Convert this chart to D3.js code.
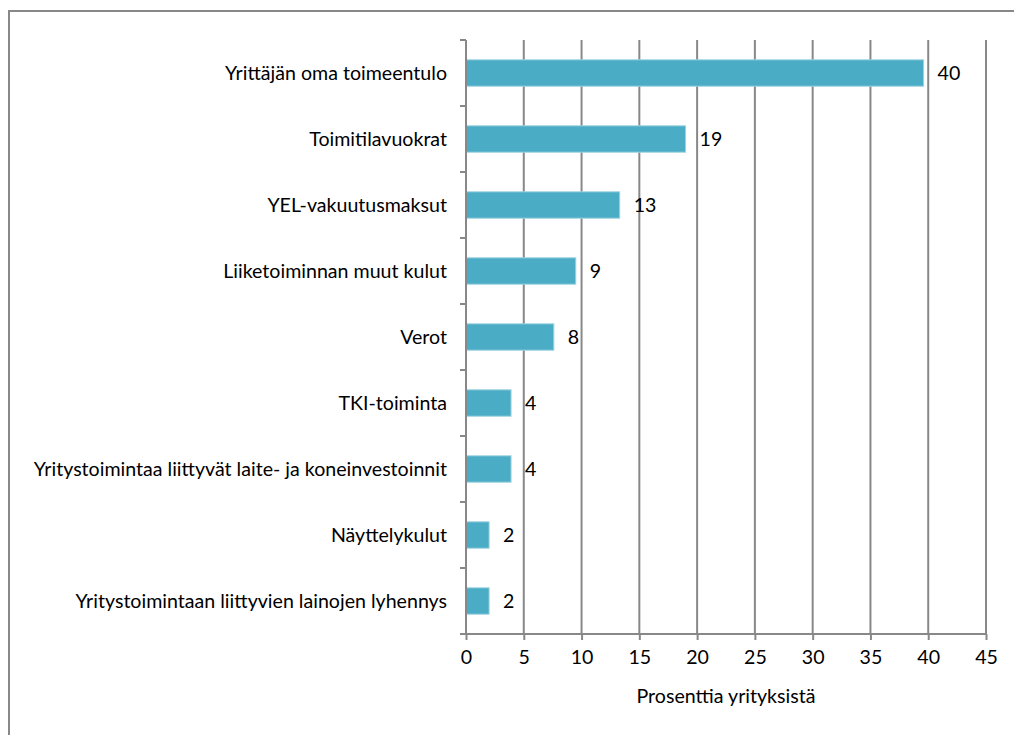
<!DOCTYPE html>
<html><head><meta charset="utf-8">
<script src="https://cdn.jsdelivr.net/npm/d3@7"></script>
<style>body{margin:0;background:#fff}svg{display:block}text{font-family:Lato,"Open Sans",sans-serif;fill:#000}</style>
</head><body><svg id="c" width="1014" height="735"></svg>
<script>
const categories = ["Yrittäjän oma toimeentulo","Toimitilavuokrat","YEL-vakuutusmaksut","Liiketoiminnan muut kulut ","Verot","TKI-toiminta","Yritystoimintaa liittyvät laite- ja koneinvestoinnit","Näyttelykulut","Yritystoimintaan liittyvien lainojen lyhennys"];
const values = [39.6, 19.0, 13.3, 9.5, 7.6, 3.9, 3.9, 2.0, 2.0];
const valueLabels = ["40","19","13","9","8","4","4","2","2"];
const xTicks = [0,5,10,15,20,25,30,35,40,45];
const axisTitle = "Prosenttia yrityksistä";
const FS = 19.6;

const svg = d3.select("#c");
svg.append("rect").attr("x",9).attr("y",11).attr("width",1020).attr("height",740)
  .attr("fill","none").attr("stroke","#888").attr("stroke-width",2);

const x = d3.scaleLinear().domain([0,45]).range([466,986]);
const y = d3.scaleBand().domain(categories).range([40,634]).paddingInner(0.6).paddingOuter(0.3);

svg.append("g").selectAll("line").data(xTicks.slice(1)).join("line")
  .attr("x1",d=>x(d)).attr("x2",d=>x(d)).attr("y1",40).attr("y2",634)
  .attr("stroke","#888").attr("stroke-width",2);

svg.append("g").selectAll("rect").data(values).join("rect")
  .attr("x",x(0)).attr("y",(d,i)=>y(categories[i]))
  .attr("width",d=>x(d)-x(0)).attr("height",y.bandwidth())
  .attr("fill","#4BACC6").attr("stroke","#9fd3e0").attr("stroke-width",1);

svg.append("g").selectAll("text").data(values).join("text")
  .attr("x",d=>x(d)+14).attr("y",(d,i)=>y(categories[i])+y.bandwidth()/2)
  .attr("dy","0.35em").attr("font-size",FS).text((d,i)=>valueLabels[i]);

const xa = svg.append("g").attr("transform","translate(0,634)")
  .call(d3.axisBottom(x).tickValues(xTicks).tickSize(6).tickPadding(10));
xa.select(".domain").attr("stroke","#888").attr("stroke-width",2).attr("d","M466,0H986");
xa.selectAll(".tick line").attr("stroke","#888").attr("stroke-width",2);
xa.selectAll(".tick text").attr("font-size",FS).attr("font-family","Lato,'Open Sans',sans-serif").attr("fill","#000");

const step = (634-40)/categories.length;
const yb = d3.range(categories.length+1).map(i=>40+i*step);
svg.append("g").selectAll("line").data(yb).join("line")
  .attr("x1",460).attr("x2",466).attr("y1",d=>d).attr("y2",d=>d)
  .attr("stroke","#888").attr("stroke-width",2);
svg.append("line").attr("x1",466).attr("x2",466).attr("y1",40).attr("y2",634)
  .attr("stroke","#888").attr("stroke-width",2);
svg.append("g").selectAll("text").data(categories).join("text")
  .attr("x",447).attr("y",d=>y(d)+y.bandwidth()/2).attr("dy","0.35em")
  .attr("text-anchor","end").attr("font-size",FS).text(d=>d);

svg.append("text").attr("x",726).attr("y",703).attr("text-anchor","middle")
  .attr("font-size",FS).text(axisTitle);
</script></body></html>
